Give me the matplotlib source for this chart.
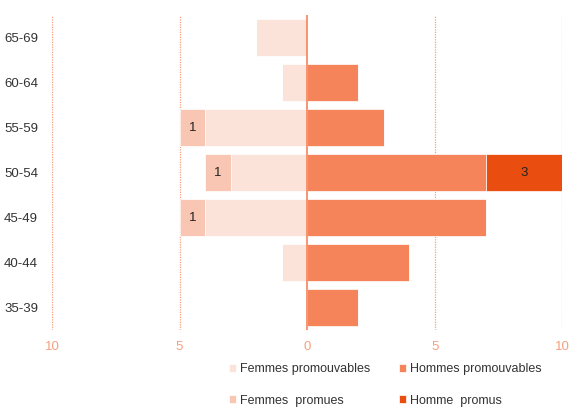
import numpy as np
import matplotlib.pyplot as plt

plt.rcParams['font.family'] = ['Liberation Sans', 'DejaVu Sans']

# tranches d'age, du haut vers le bas
ages = ['65-69', '60-64', '55-59', '50-54', '45-49', '40-44', '35-39']
femmes_promouvables = [2, 1, 4, 3, 4, 1, 0]
femmes_promues = [0, 0, 1, 1, 1, 0, 0]
hommes_promouvables = [0, 2, 3, 7, 7, 4, 2]
hommes_promus = [0, 0, 0, 3, 0, 0, 0]
x_ticks = [-10, -5, 0, 5, 10]
x_labels = ['10', '5', '0', '5', '10']

c_fp = '#fce3da'
c_fpr = '#f9c6b3'
c_hp = '#f5845b'
c_hpr = '#e94e10'
c_axis = '#f7a07f'

fig = plt.figure(figsize=(5.71, 4.07), dpi=100)
ax = fig.add_axes([0.091, 0.189, 0.894, 0.774])

y = np.arange(len(ages))
fp = -np.array(femmes_promouvables)
fpr = -np.array(femmes_promues)
hp = np.array(hommes_promouvables)
hpr = np.array(hommes_promus)
h = 0.83

for xv in [-10, -5, 5, 10]:
    ax.axvline(xv, color=c_axis, lw=0.9, ls=(0, (1, 1)), zorder=0)

b_fp = ax.barh(y, fp, height=h, color=c_fp, edgecolor='white', lw=0.5, zorder=2)
b_hp = ax.barh(y, hp, height=h, color=c_hp, edgecolor='white', lw=0.5, zorder=2)
b_fpr = ax.barh(y, fpr, left=fp, height=h, color=c_fpr, edgecolor='white', lw=0.5, zorder=2)
b_hpr = ax.barh(y, hpr, left=hp, height=h, color=c_hpr, edgecolor='white', lw=0.5, zorder=2)

for i in range(len(ages)):
    if femmes_promues[i]:
        ax.text(fp[i] + fpr[i] / 2, y[i], str(femmes_promues[i]), ha='center', va='center', fontsize=9.5, color='#222222', zorder=3)
    if hommes_promus[i]:
        ax.text(hp[i] + hpr[i] / 2, y[i], str(hommes_promus[i]), ha='center', va='center', fontsize=9.5, color='#222222', zorder=3)

ax.axvline(0, color=c_hp, lw=1.2, zorder=3)

ax.set_xlim(-10, 10)
ax.set_ylim(len(ages) - 0.5, -0.5)
ax.set_yticks(y)
ax.set_yticklabels(ages, fontsize=9.5, color='#333333')
ax.set_xticks(x_ticks)
ax.set_xticklabels(x_labels, fontsize=9.5, color=c_axis)
ax.tick_params(length=0, pad=8)
ax.tick_params(axis='y', pad=10)
for s in ax.spines.values():
    s.set_visible(False)

ax.legend([b_fp, b_fpr, b_hp, b_hpr],
          ['Femmes promouvables', 'Femmes  promues', 'Hommes promouvables', 'Homme  promus'],
          loc='upper left', bbox_to_anchor=(0.324, -0.07), ncol=2, frameon=False,
          fontsize=9, handlelength=0.6, handleheight=0.6, handletextpad=0.3,
          columnspacing=2.3, labelspacing=1.55, labelcolor='#333333')

plt.savefig('out.png', dpi=100)
